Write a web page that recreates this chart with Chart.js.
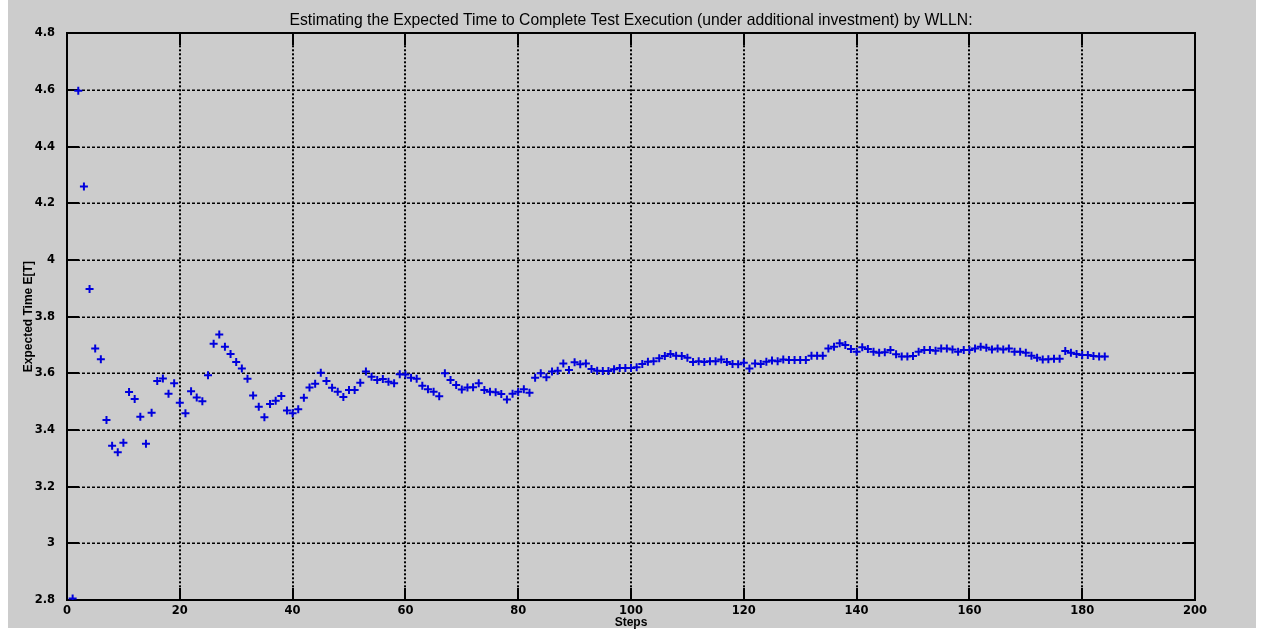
<!DOCTYPE html>
<html><head><meta charset="utf-8">
<script src="https://cdn.jsdelivr.net/npm/chart.js@4"></script>
<style>html,body{margin:0;padding:0;background:#fff;overflow:hidden}canvas{display:block}</style>
</head><body>
<canvas id="c" width="1263" height="631"></canvas>
<script>
const titleText = 'Estimating the Expected Time to Complete Test Execution (under additional investment) by WLLN:';
const xLabel = 'Steps';
const yLabel = 'Expected Time E[T]';
const xTicks = [0, 20, 40, 60, 80, 100, 120, 140, 160, 180, 200];
const yTicks = [2.8, 3.0, 3.2, 3.4, 3.6, 3.8, 4.0, 4.2, 4.4, 4.6, 4.8];
const expectedTime = [
  2.805, 4.597, 4.259, 3.898, 3.688, 3.650, 3.435, 3.344, 3.321, 3.355,
  3.534, 3.509, 3.447, 3.351, 3.461, 3.573, 3.582, 3.528, 3.565, 3.496,
  3.459, 3.537, 3.515, 3.501, 3.593, 3.704, 3.737, 3.694, 3.668, 3.640,
  3.617, 3.581, 3.522, 3.482, 3.445, 3.492, 3.503, 3.520, 3.469, 3.459,
  3.473, 3.514, 3.550, 3.563, 3.602, 3.573, 3.549, 3.535, 3.516, 3.541,
  3.541, 3.567, 3.606, 3.588, 3.576, 3.580, 3.570, 3.565, 3.597, 3.596,
  3.584, 3.581, 3.556, 3.544, 3.535, 3.519, 3.600, 3.576, 3.559, 3.543,
  3.550, 3.551, 3.565, 3.541, 3.535, 3.533, 3.527, 3.508, 3.528, 3.535,
  3.544, 3.531, 3.584, 3.600, 3.586, 3.606, 3.609, 3.635, 3.612, 3.639,
  3.632, 3.635, 3.615, 3.609, 3.608, 3.608, 3.614, 3.619, 3.619, 3.619,
  3.621, 3.633, 3.641, 3.643, 3.653, 3.661, 3.668, 3.662, 3.661, 3.655,
  3.640, 3.643, 3.640, 3.643, 3.643, 3.649, 3.640, 3.633, 3.632, 3.637,
  3.617, 3.635, 3.633, 3.641, 3.645, 3.643, 3.649, 3.647, 3.647, 3.647,
  3.647, 3.662, 3.662, 3.662, 3.688, 3.694, 3.706, 3.700, 3.686, 3.676,
  3.692, 3.686, 3.676, 3.673, 3.674, 3.682, 3.667, 3.659, 3.659, 3.661,
  3.676, 3.682, 3.682, 3.680, 3.688, 3.688, 3.684, 3.676, 3.682, 3.682,
  3.688, 3.694, 3.690, 3.684, 3.688, 3.684, 3.688, 3.676, 3.676, 3.673,
  3.662, 3.655, 3.649, 3.650, 3.651, 3.651, 3.679, 3.673, 3.668, 3.665,
  3.665, 3.661, 3.659, 3.659
];
const steps = expectedTime.map((_, i) => i + 1);

const GRAY = '#cccccc';
const tickFont = { family: 'DejaVu Sans', size: 11.5, weight: 'bold' };
const labelFont = { family: 'Liberation Sans', size: 12, weight: 'bold' };

const bgPlugin = {
  id: 'bg',
  beforeDraw(chart) {
    const c = chart.ctx;
    c.save();
    c.fillStyle = '#ffffff';
    c.fillRect(0, 0, chart.width, chart.height);
    c.fillStyle = GRAY;
    c.fillRect(8, 0, 1248, 628);
    c.restore();
  }
};

const axesPlugin = {
  id: 'matlabAxes',
  beforeDatasetsDraw(chart) {
    const c = chart.ctx, a = chart.chartArea, x = chart.scales.x, y = chart.scales.y;
    c.save();
    c.strokeStyle = '#000';
    c.lineWidth = 2;
    c.setLineDash([2, 2]);
    xTicks.forEach(v => {
      if (v === xTicks[0] || v === xTicks[xTicks.length - 1]) return;
      const px = Math.round(x.getPixelForValue(v));
      c.beginPath(); c.moveTo(px, a.top); c.lineTo(px, a.bottom); c.stroke();
    });
    c.lineWidth = 1.5;
    c.setLineDash([3, 2]);
    yTicks.forEach(v => {
      if (v === yTicks[0] || v === yTicks[yTicks.length - 1]) return;
      const py = Math.round(y.getPixelForValue(v)) + 0.25;
      c.beginPath(); c.moveTo(a.left, py); c.lineTo(a.right, py); c.stroke();
    });
    c.setLineDash([]);
    c.lineWidth = 2;
    const tl = 12;
    xTicks.forEach(v => {
      const px = Math.round(x.getPixelForValue(v));
      c.beginPath();
      c.moveTo(px, a.bottom); c.lineTo(px, a.bottom - tl);
      c.moveTo(px, a.top); c.lineTo(px, a.top + tl);
      c.stroke();
    });
    yTicks.forEach(v => {
      const py = Math.round(y.getPixelForValue(v));
      c.beginPath();
      c.moveTo(a.left, py); c.lineTo(a.left + tl, py);
      c.moveTo(a.right, py); c.lineTo(a.right - tl, py);
      c.stroke();
    });
    c.lineWidth = 2;
    c.strokeRect(Math.round(a.left), Math.round(a.top), Math.round(a.right - a.left), Math.round(a.bottom - a.top));
    // title centred over the plot area
    c.fillStyle = '#000';
    c.font = 'normal 15.7px "Liberation Sans", Arial, sans-serif';
    c.textAlign = 'center';
    c.textBaseline = 'alphabetic';
    c.fillText(titleText, (a.left + a.right) / 2, 25);
    c.restore();
  }
};

new Chart(document.getElementById('c'), {
  type: 'scatter',
  data: {
    datasets: [{
      data: steps.map((s, i) => ({ x: s, y: expectedTime[i] })),
      pointStyle: 'cross',
      pointRadius: 4,
      pointBorderWidth: 2,
      borderColor: '#0000dd',
      backgroundColor: '#0000dd',
      showLine: false
    }]
  },
  options: {
    responsive: false,
    animation: false,
    layout: { padding: { left: 0, right: 68, top: 33.3, bottom: 0 } },
    plugins: {
      legend: { display: false },
      tooltip: { enabled: false },
      title: { display: false }
    },
    scales: {
      x: {
        type: 'linear', min: 0, max: 200,
        afterBuildTicks: s => { s.ticks = xTicks.map(v => ({ value: v })); },
        grid: { display: false },
        border: { display: false },
        ticks: { color: '#000', font: tickFont, padding: -4, maxRotation: 0, autoSkip: false },
        title: { display: true, text: xLabel, color: '#000', font: labelFont, padding: { top: 0, bottom: 1 } },
        afterFit: s => { s.height = 31; }
      },
      y: {
        type: 'linear', min: 2.8, max: 4.8,
        afterBuildTicks: s => { s.ticks = yTicks.map(v => ({ value: v })); },
        grid: { display: false },
        border: { display: false },
        ticks: {
          color: '#000', font: tickFont, padding: 4, autoSkip: false,
          callback: v => String(Number(v.toFixed(1)))
        },
        title: { display: true, text: yLabel, color: '#000', font: labelFont, padding: { top: 21, bottom: 0 } },
        afterFit: s => { s.width = 67; }
      }
    }
  },
  plugins: [bgPlugin, axesPlugin]
});
</script>
</body></html>
